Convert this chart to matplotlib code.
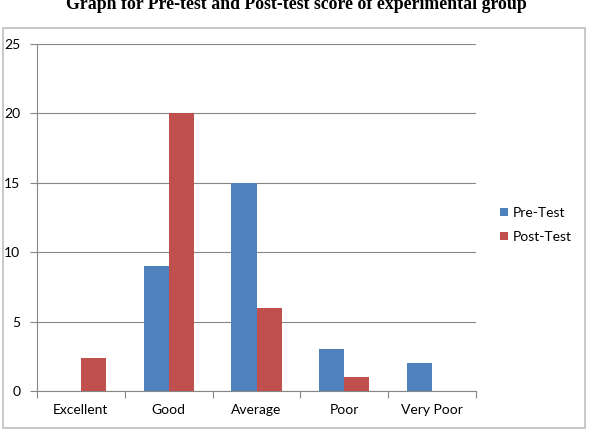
import matplotlib
matplotlib.use("Agg")
import matplotlib.pyplot as plt
import numpy as np
from matplotlib.patches import Rectangle

categories = ["Excellent", "Good", "Average", "Poor", "Very Poor"]
pre_test = [0, 9, 15, 3, 2]
post_test = [2.4, 20, 6, 1, 0]
series_names = ["Pre-Test", "Post-Test"]
yticks = [0, 5, 10, 15, 20, 25]
title = "Graph for Pre-test and Post-test score of experimental group"

blue = "#4F81BD"
red = "#C0504D"
font = "Lato"

fig = plt.figure(figsize=(5.92, 4.32), dpi=100)
W, H = 592, 432

# outer chart frame
fig.patches.append(Rectangle((3 / W, 1 - 428 / H), 582 / W, 400 / H, transform=fig.transFigure,
                             fill=False, edgecolor="#BFBFBF", linewidth=1.2))

ax = fig.add_axes([37 / W, 1 - 391 / H, (476 - 37) / W, (391 - 44) / H])
x = np.arange(len(categories))
bw = 0.285
ax.bar(x - bw / 2, pre_test, width=bw, color=blue, label=series_names[0], zorder=3)
ax.bar(x + bw / 2, post_test, width=bw, color=red, label=series_names[1], zorder=3)

ax.set_xlim(-0.5, len(categories) - 0.5)
ax.set_ylim(0, 25)
ax.set_yticks(yticks)
ax.set_yticklabels([str(v) for v in yticks], fontsize=10, family=font)
ax.yaxis.grid(True, color="#878787", linewidth=0.8, zorder=0)
ax.set_axisbelow(True)

ax.set_xticks(np.arange(-0.5, len(categories), 1.0), minor=False)
ax.set_xticklabels([])
ax.set_xticks(x, minor=True)
ax.set_xticklabels(categories, minor=True, fontsize=10, family=font)
ax.tick_params(axis="x", which="minor", length=0, pad=9)
ax.tick_params(axis="x", which="major", length=5, color="#878787")
ax.tick_params(axis="y", length=5, color="#878787", pad=7)

for s in ["top", "right"]:
    ax.spines[s].set_visible(False)
ax.spines["left"].set_color("#878787")
ax.spines["bottom"].set_color("#878787")

leg = fig.legend(loc="upper left", bbox_to_anchor=(500 / W, 1 - 207 / H), frameon=False,
                 prop={"family": font, "size": 10}, handlelength=0.55, handleheight=0.55,
                 handletextpad=0.4, labelspacing=0.85, borderpad=0, borderaxespad=0)

fig.text(0.5, 1 - 9 / H, title, ha="center", va="baseline", fontsize=12.8,
         fontweight="bold", family="Liberation Serif")

fig.savefig("out.png", dpi=100)
